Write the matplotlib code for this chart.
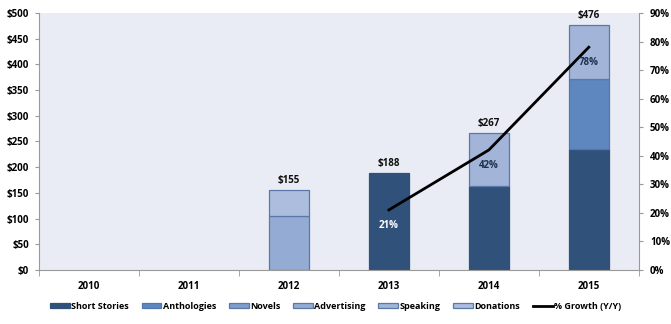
import numpy as np
from matplotlib import pyplot as plt
from matplotlib.patches import Patch
from matplotlib.lines import Line2D
from matplotlib.ticker import FuncFormatter

plt.rcParams['font.family'] = ['Open Sans', 'DejaVu Sans']
plt.rcParams['font.weight'] = 'bold'

years = ['2010', '2011', '2012', '2013', '2014', '2015']
series = ['Short Stories', 'Anthologies', 'Novels', 'Advertising', 'Speaking', 'Donations']
short_stories = [0, 0, 0, 188, 164, 236]
anthologies = [0, 0, 0, 0, 0, 136]
novels = [0, 0, 0, 0, 0, 0]
advertising = [0, 0, 104, 0, 0, 0]
speaking = [0, 0, 0, 0, 103, 104]
donations = [0, 0, 51, 0, 0, 0]
totals = [None, None, '$155', '$188', '$267', '$476']
growth_years = [3, 4, 5]
growth = [21, 42, 78]

colors = ['#30527A', '#5F87BF', '#7F9CCB', '#94ACD3', '#A2B4D8', '#ACBDDD']
edges = ['#30527A', '#5277AD', '#5A78A8', '#5A78A8', '#5A78A8', '#5A78A8']

fig = plt.figure(figsize=(6.71, 3.24), dpi=100)
ax = fig.add_axes([0.058, 0.167, 0.894, 0.793])
ax.set_facecolor('#E9ECF4')

x = np.arange(len(years))
bottom = np.zeros(len(years))
handles = []
for name, vals, c, e in zip(series,
                            [short_stories, anthologies, novels, advertising, speaking, donations],
                            colors, edges):
    vals = np.array(vals, dtype=float)
    nz = vals > 0
    if nz.any():
        ax.bar(x[nz], vals[nz], 0.4, bottom=bottom[nz], color=c, edgecolor=e,
               linewidth=0.9, zorder=2)
    handles.append(Patch(facecolor=c, edgecolor=e, linewidth=0.9))
    bottom += vals

for i, t in enumerate(totals):
    if t:
        ax.text(x[i], bottom[i] + 8, t, ha='center', va='bottom', fontsize=7,
                color='#111111')

ax.set_xlim(-0.5, len(years) - 0.5)
ax.set_ylim(0, 500)
ax.set_yticks(range(0, 501, 50))
ax.yaxis.set_major_formatter(FuncFormatter(lambda v, p: f'${int(v)}'))
ax.set_xticks(x)
ax.set_xticklabels(years)
ax.set_xticks(np.arange(-0.5, len(years), 1), minor=True)
ax.tick_params(axis='x', which='major', length=0, labelsize=7, pad=8)
ax.tick_params(axis='x', which='minor', length=4, color='#999999')
ax.tick_params(axis='y', length=3, color='#999999', labelsize=7, pad=4)
for s in ['top', 'right']:
    ax.spines[s].set_visible(False)
for s in ['left', 'bottom']:
    ax.spines[s].set_color('#999999')

ax2 = ax.twinx()
ax2.set_ylim(0, 90)
ax2.set_yticks(range(0, 91, 10))
ax2.yaxis.set_major_formatter(FuncFormatter(lambda v, p: f'{int(v)}%'))
ax2.tick_params(axis='y', length=3, color='#999999', labelsize=7, pad=5)
for s in ['top', 'left', 'bottom']:
    ax2.spines[s].set_visible(False)
ax2.spines['right'].set_color('#999999')
ax2.plot(growth_years, growth, color='black', linewidth=2, zorder=3)
label_colors = ['white', '#1F3050', '#1F3050']
for gx, gv, lc in zip(growth_years, growth, label_colors):
    ax2.text(gx, gv - 5.5, f'{gv}%', ha='center', va='center', fontsize=7, color=lc)

line = Line2D([], [], color='black', linewidth=2)
fig.legend(handles + [line], series + ['% Growth (Y/Y)'], loc='center',
           bbox_to_anchor=(0.5, 0.055), ncol=7, frameon=False, fontsize=6.5,
           handlelength=2.2, handleheight=0.6, handletextpad=0.15, columnspacing=1.4)

fig.savefig('out.png', dpi=100)
